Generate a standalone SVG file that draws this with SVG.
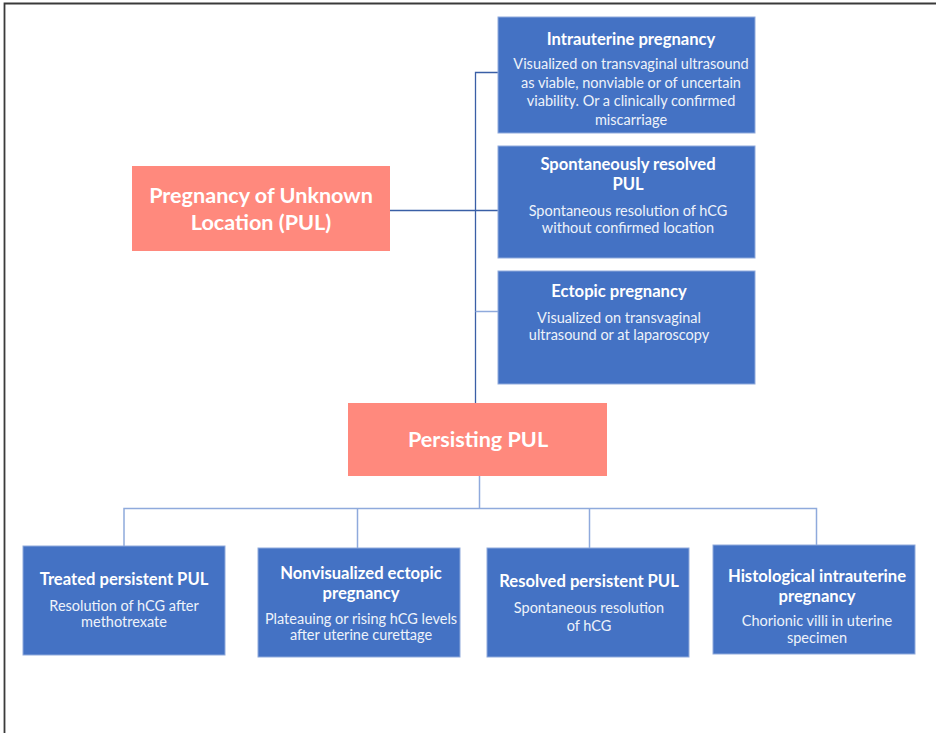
<svg xmlns="http://www.w3.org/2000/svg" width="936" height="733" viewBox="0 0 936 733">
<style>
.blue{fill:#4472C4;stroke:#8FAADC;stroke-width:1}
.red{fill:#FF897D}
.t{font-family:Lato,"Open Sans",sans-serif;font-weight:bold;fill:#fff;text-anchor:middle;font-size:16.6px}
.b{font-family:Lato,"Open Sans",sans-serif;fill:#EEF2FA;text-anchor:middle;font-size:14.5px}
.big{font-family:Lato,"Open Sans",sans-serif;font-weight:bold;fill:#fff;text-anchor:middle;font-size:21.6px}
.c1{stroke:#3A5FA6;stroke-width:1.3;fill:none}
.c2{stroke:#8FAADC;stroke-width:1.5;fill:none}
</style>
<rect width="936" height="733" fill="#fff"/>
<path d="M4.5 733V3.5H936" fill="none" stroke="#3a3a3a" stroke-width="1.8"/>
<g id="connectors">
<path class="c1" d="M475.5 403V72.5H498"/>
<path class="c1" d="M390 210.5H498"/>
<path class="c2" d="M475.5 311.5H498"/>
<path class="c2" d="M479.5 476V508.5"/>
<path class="c2" d="M124 546V508.5H816.5V545"/>
<path class="c2" d="M357.5 548V508.5"/>
<path class="c2" d="M589.5 548V508.5"/>
</g>
<g id="pul">
<rect class="red" x="132" y="166" width="258" height="85"/>
<text class="big" x="261" y="203">Pregnancy of Unknown</text>
<text class="big" x="261" y="230">Location (PUL)</text>
</g>
<g id="intrauterine">
<rect class="blue" x="498" y="17" width="257" height="116"/>
<text class="t" x="631" y="44.5">Intrauterine pregnancy</text>
<text class="b" x="631" y="69">Visualized on transvaginal ultrasound</text>
<text class="b" x="631" y="87.5">as viable, nonviable or of uncertain</text>
<text class="b" x="631" y="106">viability. Or a clinically confirmed</text>
<text class="b" x="631" y="124.5">miscarriage</text>
</g>
<g id="spontaneous">
<rect class="blue" x="498" y="146" width="257" height="112"/>
<text class="t" x="628" y="170">Spontaneously resolved</text>
<text class="t" x="628" y="190">PUL</text>
<text class="b" x="628" y="216">Spontaneous resolution of hCG</text>
<text class="b" x="628" y="233">without confirmed location</text>
</g>
<g id="ectopic">
<rect class="blue" x="498" y="271" width="257" height="113"/>
<text class="t" x="619" y="297">Ectopic pregnancy</text>
<text class="b" x="619" y="323">Visualized on transvaginal</text>
<text class="b" x="619" y="340">ultrasound or at laparoscopy</text>
</g>
<g id="persisting">
<rect class="red" x="348" y="403" width="259" height="73"/>
<text class="big" x="478" y="447">Persisting PUL</text>
</g>
<g id="treated">
<rect class="blue" x="23" y="546" width="202" height="109"/>
<text class="t" x="124" y="585">Treated persistent PUL</text>
<text class="b" x="124" y="611">Resolution of hCG after</text>
<text class="b" x="124" y="627">methotrexate</text>
</g>
<g id="nonvisualized">
<rect class="blue" x="258" y="548" width="202" height="109"/>
<text class="t" x="361" y="579">Nonvisualized ectopic</text>
<text class="t" x="361" y="599">pregnancy</text>
<text class="b" x="361" y="624">Plateauing or rising hCG levels</text>
<text class="b" x="361" y="640">after uterine curettage</text>
</g>
<g id="resolved">
<rect class="blue" x="487" y="548" width="202" height="109"/>
<text class="t" x="589" y="587">Resolved persistent PUL</text>
<text class="b" x="589" y="613">Spontaneous resolution</text>
<text class="b" x="589" y="631">of hCG</text>
</g>
<g id="histological">
<rect class="blue" x="713" y="545" width="202" height="109"/>
<text class="t" x="817" y="582">Histological intrauterine</text>
<text class="t" x="817" y="602">pregnancy</text>
<text class="b" x="817" y="626">Chorionic villi in uterine</text>
<text class="b" x="817" y="643">specimen</text>
</g>
</svg>
